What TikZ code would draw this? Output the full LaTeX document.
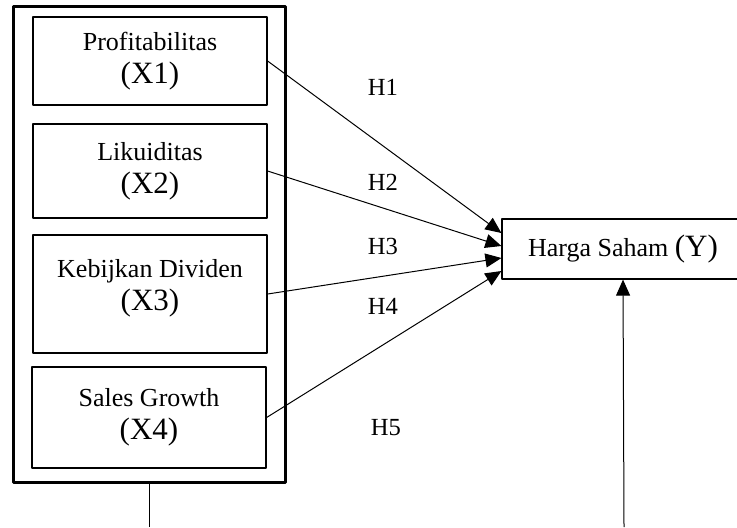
\documentclass[tikz,border=0pt]{standalone}
\usepackage{fontspec}
\setmainfont{Liberation Serif}
\usetikzlibrary{arrows.meta}
\newcommand\bigx{\fontsize{15.5}{17}\selectfont}

\begin{document}
\begin{tikzpicture}[x=0.5pt, y=-0.5pt, font=\fontsize{13}{15}\selectfont, line join=round, >={Triangle[length=8pt,width=7pt]},
	var/.style={draw, line width=0.6pt, minimum width=117pt, align=center, inner sep=0pt},
	hyp/.style={font=\fontsize{12.3}{14}\selectfont}]
	\useasboundingbox (0,0) rectangle (737,527);
	\node[draw, line width=1.5pt, minimum width=136pt, minimum height=238pt] (grp) at (149,244) {};
	\node[var, minimum height=44pt] (x1) at (150,61) {Profitabilitas\\[1.5pt]{\bigx (X1)}};
	\node[var, minimum height=47pt] (x2) at (150,171) {Likuiditas\\[1.5pt]{\bigx (X2)}};
	\node[var, minimum height=59pt] (x3) at (150,294) {Kebijkan Dividen\\[1.5pt]{\bigx (X3)}\\[-6pt]\mbox{}};
	\node[var, minimum height=50.5pt] (x4) at (149,417.5) {Sales Growth\\[1.5pt]{\bigx (X4)}};
	\node[draw, line width=0.6pt, minimum width=121pt, minimum height=30pt] (y) at (623,249) {Harga Saham {\bigx (Y)}};
	\coordinate (b1) at (149,527);
	\coordinate (b2) at (624,527);
	\draw[line width=0.5pt] (grp.south) -- (b1);
	\draw[line width=0.5pt, ->] (b2) -- (y.south);
	\draw[line width=0.5pt, ->] (x1.east) -- ([yshift=8pt]y.west);
	\draw[line width=0.5pt, ->] (x2.east) -- ([yshift=1.5pt]y.west);
	\draw[line width=0.5pt, ->] (x3.east) -- ([yshift=-4.5pt]y.west);
	\draw[line width=0.5pt, ->] (x4.east) -- ([yshift=-11pt]y.west);
	\node[hyp] (h1) at (383,87) {H1};
	\node[hyp] (h2) at (383,182) {H2};
	\node[hyp] (h3) at (383,246) {H3};
	\node[hyp] (h4) at (383,306) {H4};
	\node[hyp] (h5) at (386,428) {H5};
\end{tikzpicture}
\end{document}
